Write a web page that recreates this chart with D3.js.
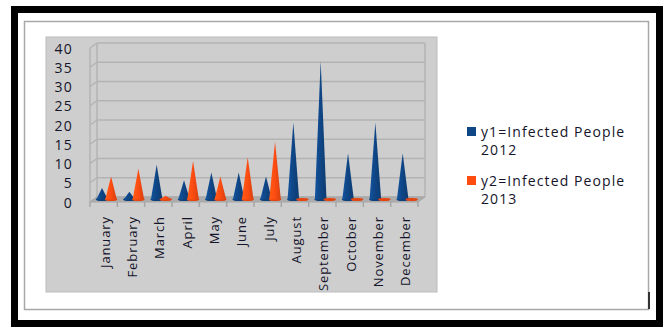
<!DOCTYPE html>
<html>
<head>
<meta charset="utf-8">
<script src="https://cdn.jsdelivr.net/npm/d3@7"></script>
<style>
  body { margin: 0; background: #fff; }
  svg { display: block; }
  text { font-family: "Open Sans", sans-serif; fill: #14142a; }
</style>
</head>
<body>
<div id="chart"></div>
<script>
const months = ["January", "February", "March", "April", "May", "June", "July",
  "August", "September", "October", "November", "December"];
const infected2012 = [3, 2, 9, 5, 7, 7, 6, 20, 36, 12, 20, 12];
const infected2013 = [6, 8, 1, 10, 6, 11, 15, 0, 0, 0, 0, 0];
const yTicks = [0, 5, 10, 15, 20, 25, 30, 35, 40];
const seriesNames = [["y1=Infected People", "2012"], ["y2=Infected People", "2013"]];
const seriesColors = ["#0f4686", "#ff4d12"];

const width = 667, height = 327;
const svg = d3.select("#chart").append("svg").attr("width", width).attr("height", height);

// frame
svg.append("rect").attr("x", 14.5).attr("y", 9.5).attr("width", 645).attr("height", 314)
  .attr("fill", "#fff").attr("stroke", "#000").attr("stroke-width", 7);
svg.append("rect").attr("x", 24.5).attr("y", 21.5).attr("width", 624).attr("height", 288)
  .attr("fill", "#fff").attr("stroke", "#a8a8a8").attr("stroke-width", 1.5);
svg.append("line").attr("x1", 649).attr("x2", 649).attr("y1", 292).attr("y2", 309)
  .attr("stroke", "#333").attr("stroke-width", 2);

// plot area
svg.append("rect").attr("x", 46).attr("y", 37).attr("width", 391).attr("height", 255)
  .attr("fill", "#cecece").attr("stroke", "#bcbcbc");

const dx = 7, dy = 5; // depth offset (3D look)
const x = d3.scaleBand().domain(months).range([90, 418]);
const y = d3.scaleLinear().domain([0, 40]).range([197, 43]);

// gradients for cones
const defs = svg.append("defs");
seriesColors.forEach((c, i) => {
  const g = defs.append("linearGradient").attr("id", "cone" + i)
    .attr("x1", "0%").attr("x2", "100%").attr("y1", "0%").attr("y2", "0%");
  g.append("stop").attr("offset", "0%").attr("stop-color", d3.color(c).brighter(0.5));
  g.append("stop").attr("offset", "45%").attr("stop-color", c);
  g.append("stop").attr("offset", "100%").attr("stop-color", d3.color(c).darker(0.5));
});

// walls & gridlines
const grid = svg.append("g").attr("stroke", "#b3b3b3").attr("stroke-width", 1.5).attr("fill", "none");
grid.selectAll("line.back").data(yTicks).join("line")
  .attr("x1", 90 + dx).attr("x2", 418 + dx)
  .attr("y1", d => y(d)).attr("y2", d => y(d));
grid.selectAll("line.side").data(yTicks).join("line")
  .attr("x1", 90).attr("x2", 90 + dx)
  .attr("y1", d => y(d) + dy).attr("y2", d => y(d));
grid.append("line").attr("x1", 90 + dx).attr("x2", 90 + dx).attr("y1", y(40)).attr("y2", y(0));
grid.append("line").attr("x1", 418 + dx).attr("x2", 418 + dx).attr("y1", y(40)).attr("y2", y(0));
grid.append("line").attr("x1", 90).attr("x2", 90).attr("y1", y(40) + dy).attr("y2", y(0) + dy);

// floor
svg.append("path")
  .attr("d", `M90,${y(0) + dy}L${90 + dx},${y(0)}L${418 + dx},${y(0)}L418,${y(0) + dy}Z`)
  .attr("fill", "#adadad").attr("stroke", "#a6a6a6");

// x ticks
svg.append("g").attr("stroke", "#a6a6a6").attr("stroke-width", 1.5)
  .selectAll("line").data(months.concat(["end"])).join("line")
  .attr("x1", (d, i) => 90 + i * x.bandwidth()).attr("x2", (d, i) => 90 + i * x.bandwidth())
  .attr("y1", y(0) + dy).attr("y2", y(0) + dy + 5);

// cones
const base = y(0) + dy / 2;
const hw = 5.8;
const cones = svg.append("g");
[infected2012, infected2013].forEach((vals, s) => {
  const off = s === 0 ? 0.44 : 0.77;
  const g = cones.append("g");
  const cx = (d, i) => x(months[i]) + x.bandwidth() * off;
  g.selectAll("ellipse").data(vals).join("ellipse")
    .attr("cx", cx).attr("cy", base).attr("rx", hw + 0.5).attr("ry", 1.6)
    .attr("fill", d3.color(seriesColors[s]).darker(0.3));
  g.selectAll("path").data(vals).join("path")
    .attr("d", (d, i) => {
      const c = cx(d, i);
      return `M${c - hw},${base}L${c},${y(d) + dy / 2}L${c + hw},${base}Z`;
    })
    .attr("fill", `url(#cone${s})`);
});

// y labels
svg.append("g").selectAll("text").data(yTicks).join("text")
  .attr("x", 73).attr("y", d => y(d) + dy)
  .attr("text-anchor", "end").attr("dominant-baseline", "central")
  .attr("font-size", 14).attr("font-weight", 500).attr("letter-spacing", 1.2)
  .text(d => d);

// x labels
svg.append("g").selectAll("text").data(months).join("text")
  .attr("transform", d => `translate(${x(d) + x.bandwidth() / 2 + 1},216) rotate(-90)`)
  .attr("text-anchor", "end").attr("dominant-baseline", "central")
  .attr("font-size", 13).attr("font-weight", 500).attr("letter-spacing", 0.9)
  .text(d => d);

// legend
const leg = svg.append("g").selectAll("g").data(seriesNames).join("g")
  .attr("transform", (d, i) => `translate(467,${127 + i * 49})`);
leg.append("rect").attr("width", 9).attr("height", 9).attr("fill", (d, i) => seriesColors[i]);
leg.append("text").attr("x", 14).attr("y", 9.5).attr("font-size", 14).attr("font-weight", 500)
  .attr("letter-spacing", 1.1).text(d => d[0]);
leg.append("text").attr("x", 14).attr("y", 27.5).attr("font-size", 14).attr("font-weight", 500)
  .attr("letter-spacing", 1.1).text(d => d[1]);
</script>
</body>
</html>
